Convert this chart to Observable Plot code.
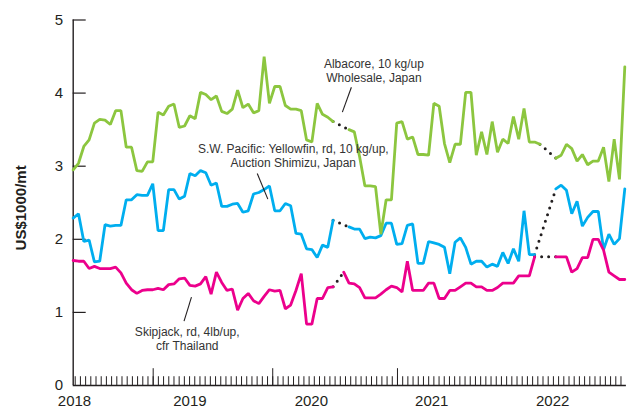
<!DOCTYPE html>
<html>
<head>
<meta charset="utf-8">
<script src="https://cdn.jsdelivr.net/npm/d3@7"></script>
<script src="https://cdn.jsdelivr.net/npm/@observablehq/plot@0.6"></script>
<style>
  html, body { margin: 0; padding: 0; background: #fff; }
  #chart svg { display: block; }
</style>
</head>
<body>
<div id="chart"></div>
<script>
// Tuna prices, US$1000 per tonne, one observation per half-month period
// (period 0 = start of 2018). null = no quotation for that period.
const albacore = [
  2.95, 3.04, 3.27, 3.36, 3.59, 3.64, 3.63, 3.57, 3.76, 3.76,
  3.26, 3.26, 2.94, 2.93, 3.06, 3.06, 3.74, 3.70, 3.82, 3.85,
  3.53, 3.55, 3.69, 3.65, 4.01, 3.98, 3.91, 3.96, 3.75, 3.72,
  3.78, 4.04, 3.80, 3.85, 3.73, 3.76, 4.50, 3.86, 4.09, 4.09,
  3.83, 3.78, 3.78, 3.76, 3.36, 3.33, 3.86, 3.71, 3.67, 3.61,
  null, null, 3.50, 3.47, 3.13, 2.73, 2.73, 2.72, 2.07, 2.54,
  2.54, 3.59, 3.61, 3.37, 3.40, 3.16, 3.16, 3.15, 3.86, 3.82,
  3.31, 3.05, 3.30, 3.30, 4.01, 4.01, 3.15, 3.47, 3.16, 3.61,
  3.19, 3.37, 3.31, 3.68, 3.37, 3.79, 3.33, 3.33, 3.30, null,
  null, 3.11, 3.15, 3.30, 3.24, 3.07, 3.16, 3.02, 3.07, 3.07,
  3.26, 2.79, 3.37, 2.82, 4.36
];
const yellowfin = [
  2.29, 2.35, 1.97, 1.99, 1.69, 1.70, 2.20, 2.18, 2.19, 2.19,
  2.54, 2.54, 2.61, 2.60, 2.60, 2.76, 2.12, 2.12, 2.68, 2.68,
  2.55, 2.59, 2.90, 2.87, 2.94, 2.91, 2.74, 2.77, 2.45, 2.45,
  2.48, 2.49, 2.37, 2.39, 2.62, 2.64, 2.68, 2.73, 2.39, 2.39,
  2.49, 2.46, 2.08, 2.07, 1.87, 1.86, 1.75, 1.92, 1.89, 2.26,
  null, null, 2.17, 2.14, 2.14, 2.01, 2.03, 2.02, 2.05, 2.22,
  2.22, 1.93, 1.94, 2.19, 2.21, 1.67, 1.67, 1.97, 1.95, 1.93,
  1.89, 1.53, 1.96, 2.02, 1.89, 1.66, 1.70, 1.70, 1.62, 1.66,
  1.63, 1.82, 1.67, 1.87, 1.70, 2.39, 1.79, 1.79, null, null,
  null, 2.69, 2.74, 2.67, 2.35, 2.52, 2.18, 2.30, 2.38, 2.38,
  1.86, 2.07, 1.93, 2.01, 2.69
];
const skipjack = [
  1.71, 1.70, 1.70, 1.60, 1.63, 1.60, 1.60, 1.60, 1.62, 1.54,
  1.40, 1.31, 1.26, 1.30, 1.31, 1.31, 1.33, 1.31, 1.38, 1.39,
  1.46, 1.47, 1.37, 1.36, 1.39, 1.49, 1.25, 1.55, 1.41, 1.30,
  1.32, 1.03, 1.19, 1.26, 1.16, 1.12, 1.22, 1.31, 1.29, 1.30,
  1.05, 1.10, 1.30, 1.53, 0.84, 0.84, 1.19, 1.19, 1.34, 1.35,
  null, 1.55, 1.40, 1.39, 1.34, 1.20, 1.20, 1.20, 1.25, 1.31,
  1.36, 1.34, 1.28, 1.70, 1.30, 1.30, 1.30, 1.40, 1.40, 1.19,
  1.19, 1.30, 1.30, 1.35, 1.40, 1.40, 1.35, 1.35, 1.30, 1.30,
  1.34, 1.40, 1.40, 1.40, 1.50, 1.50, 1.50, 1.76, null, null,
  null, 1.76, 1.76, 1.76, 1.55, 1.60, 1.75, 1.75, 2.00, 2.00,
  1.85, 1.55, 1.50, 1.45, 1.45
];

const seriesNames = ["Yellowfin", "Skipjack", "Albacore"];
const seriesColors = ["#00aeef", "#ec008c", "#8cc63f"];
const seriesValues = [yellowfin, skipjack, albacore];

const yTicks = [0, 1, 2, 3, 4, 5];
const yearLabels = ["2018", "2019", "2020", "2021", "2022"];
const yearLabelPeriods = [0.25, 22, 44.9, 67.6, 90.4];
const minorTickCount = 106;
const minorTickStart = 0.38;
const minorTickStep = 0.98;
const longTickIndexes = [15, 38, 62];

const seriesLabels = [
  "Albacore, 10 kg/up\nWholesale, Japan",
  "S.W. Pacific: Yellowfin, rd, 10 kg/up,\nAuction Shimizu, Japan",
  "Skipjack, rd, 4lb/up,\ncfr Thailand"
];
const labelPeriods = [56.7, 41.5, 21.5];
const labelPrices = [4.31, 3.15, 0.64];
const leaderFrom = [[52.45, 4.08], [34.7, 2.90], [22.3, 1.21]];
const leaderTo = [[50.75, 3.74], [36.7, 2.55], [20.9, 0.88]];

// rows for the line marks
const rows = seriesValues.flatMap((values, s) =>
  values.map((v, i) => ({series: seriesNames[s], period: i, price: v}))
);

// dotted bridges across missing periods
function gapLinks(values) {
  const out = [];
  let last = null;
  values.forEach((v, i) => {
    if (v == null) return;
    if (last !== null && i - last > 1) out.push({x1: last, y1: values[last], x2: i, y2: v});
    last = i;
  });
  return out;
}
const bridges = seriesValues.flatMap(gapLinks);

const minorTicks = d3.range(minorTickCount).map(k => minorTickStart + k * minorTickStep);
const longTicks = longTickIndexes.map(k => minorTicks[k]);

const ink = "#231f20";
const font = "'Liberation Sans', Arial, Helvetica, sans-serif";

const chart = Plot.plot({
  width: 629,
  height: 409,
  marginLeft: 0, marginRight: 0, marginTop: 0, marginBottom: 0,
  x: {domain: [0, 104], range: [72.7, 624.3], axis: null},
  y: {domain: [0, 5], range: [385, 19.5], axis: null},
  color: {domain: seriesNames, range: seriesColors},
  style: {fontFamily: font, background: "#fff", overflow: "visible", color: ink},
  marks: [
    // axes
    Plot.ruleX([0], {y1: 0, y2: 5, stroke: ink, strokeWidth: 1.4}),
    Plot.ruleY([0], {x1: 0, x2: 104.3, stroke: ink, strokeWidth: 1.4}),
    Plot.ruleY(yTicks.slice(1), {x1: 0, x2: 2.45, stroke: ink, strokeWidth: 1.2}),
    Plot.text(yTicks, {x: 0, y: d => d, text: d => String(d), dx: -10, textAnchor: "end", fontSize: 15, fill: ink}),
    Plot.ruleX(minorTicks, {y1: 0, y2: 0.12, stroke: ink, strokeWidth: 1}),
    Plot.ruleX(longTicks, {y1: 0, y2: 0.23, stroke: ink, strokeWidth: 1}),
    Plot.text(yearLabels, {x: (d, i) => yearLabelPeriods[i], y: 0, dy: 16, text: d => d, fontSize: 15, fill: ink}),
    Plot.text(["US$1000/mt"], {x: -9.75, y: 2.43, text: d => d, rotate: -90, fontSize: 15, fontWeight: "bold", fill: ink}),

    // price series
    Plot.link(bridges, {x1: "x1", y1: "y1", x2: "x2", y2: "y2", stroke: ink, strokeWidth: 3, strokeDasharray: "0 7", strokeLinecap: "round"}),
    ...seriesNames.map(name =>
      Plot.line(rows.filter(r => r.series === name), {
        x: "period", y: "price", stroke: "series", strokeWidth: 2.8, strokeLinejoin: "miter", curve: "linear"
      })
    ),

    // series labels with leader lines
    Plot.text(seriesLabels, {
      x: (d, i) => labelPeriods[i], y: (d, i) => labelPrices[i], text: d => d,
      fontSize: 12, lineHeight: 1.17, fill: "#333", textAnchor: "middle"
    }),
    Plot.link(leaderFrom, {
      x1: (d) => d[0], y1: (d) => d[1],
      x2: (d, i) => leaderTo[i][0], y2: (d, i) => leaderTo[i][1],
      stroke: ink, strokeWidth: 1.1
    })
  ]
});

document.getElementById("chart").appendChild(chart);
</script>
</body>
</html>
